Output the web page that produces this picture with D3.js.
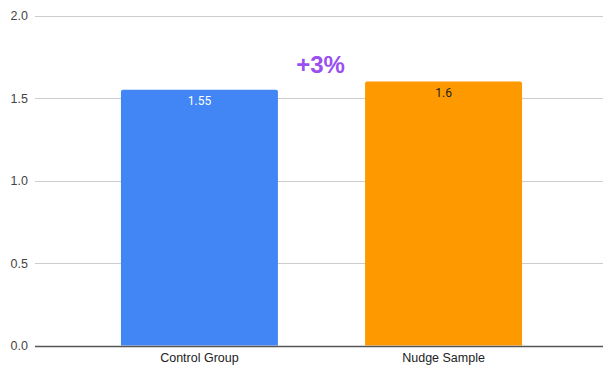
<!DOCTYPE html>
<html><head><meta charset="utf-8">
<script src="https://cdn.jsdelivr.net/npm/d3@7"></script>
<style>body{margin:0;background:#fff}svg{display:block;font-family:"Liberation Sans",Arial,sans-serif}</style>
</head><body>
<svg id="c" width="603" height="365"></svg>
<script>
const categories = ["Control Group", "Nudge Sample"];
const values = [1.55, 1.6];
const barColors = ["#4285f4", "#ff9900"];
const labelColors = ["#ffffff", "#222222"];
const yTicks = [0, 0.5, 1.0, 1.5, 2.0];
const annotation = "+3%";

const svg = d3.select("#c");
const y = d3.scaleLinear().domain([0, 2]).range([345.5, 15.5]);
const x = d3.scaleBand().domain(categories).range([77.5, 565.5]).paddingInner(0.357).paddingOuter(0.178);

svg.append("g").selectAll("line").data(yTicks.filter(d => d > 0)).join("line")
  .attr("x1", 35).attr("x2", 603)
  .attr("y1", d => Math.round(y(d)) + 0.5).attr("y2", d => Math.round(y(d)) + 0.5)
  .attr("stroke", "#cccccc").attr("stroke-width", 1);

svg.append("g").selectAll("text").data(yTicks).join("text")
  .attr("x", 28).attr("y", d => y(d) + 4.5)
  .attr("text-anchor", "end").attr("font-size", 12.5).attr("fill", "#444")
  .text(d => d.toFixed(1));

svg.append("g").selectAll("path").data(values).join("path")
  .attr("d", (d, i) => {
    const x0 = x(categories[i]), w = x.bandwidth(), y0 = y(d), y1 = y(0), r = 2;
    return `M${x0},${y1}V${y0 + r}Q${x0},${y0} ${x0 + r},${y0}H${x0 + w - r}Q${x0 + w},${y0} ${x0 + w},${y0 + r}V${y1}Z`;
  })
  .attr("fill", (d, i) => barColors[i]);

svg.append("g").selectAll("text").data(values).join("text")
  .attr("x", (d, i) => x(categories[i]) + x.bandwidth() / 2)
  .attr("y", d => y(d) + 15)
  .attr("text-anchor", "middle").attr("font-size", 12).attr("font-family", "Roboto, sans-serif")
  .attr("fill", (d, i) => labelColors[i])
  .text(d => d);

svg.append("line").attr("x1", 35).attr("x2", 603)
  .attr("y1", Math.round(y(0)) + 0.5).attr("y2", Math.round(y(0)) + 0.5)
  .attr("stroke", "#555").attr("stroke-width", 1.5);

svg.append("g").selectAll("text").data(categories).join("text")
  .attr("x", d => x(d) + x.bandwidth() / 2).attr("y", 362)
  .attr("text-anchor", "middle").attr("font-size", 12.5).attr("fill", "#222")
  .text(d => d);

const mid = (x(categories[0]) + x(categories[1]) + x.bandwidth()) / 2;
svg.append("text").attr("x", mid - 1).attr("y", 73)
  .attr("text-anchor", "middle").attr("font-size", 24).attr("font-weight", "bold")
  .attr("fill", "#9a4ff0").text(annotation);
</script>
</body></html>
